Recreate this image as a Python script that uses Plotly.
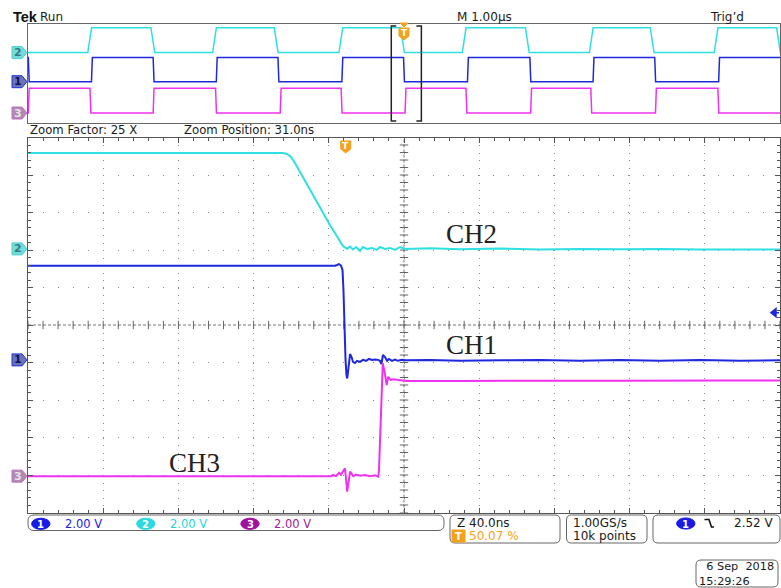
import plotly.graph_objects as go

W, H = 781, 588

# ---------------- data ----------------
VDIV = 2.00            # volts per division (all channels)
ZOOM_FACTOR = 25
ZOOM_POS_NS = 31.0     # zoom window centre, ns after trigger
ZOOM_NS_DIV = 40.0     # zoomed time base, ns/div
MAIN_US_DIV = 1.00     # main time base, us/div
TRIG_LEVEL = 2.52      # CH1 falling-edge trigger level, V

# zoomed window traces: time (ns from trigger), volts
ch2_t = [-169, -120, -80, -33.4, -31.2, -29.1, -27.0, -24.3, -19.0, -13.7,
         -8.4, -4.1, -1.5, 0.7, 2.3, 3.9, 5.5, 7.6, 9.2, 11.3,
         14.0, 16.6, 18.2, 20.9, 23.6, 26.2, 28.9, 31.5, 44.8, 60.8,
         82.1, 103.4, 124.6, 145.9, 167.2, 188.5, 209.8, 231]
ch2_v = [5.11, 5.12, 5.10, 5.11, 5.06, 4.90, 4.58, 4.10, 3.14, 2.23,
         1.27, 0.58, 0.15, 0.0, 0.12, -0.03, 0.10, -0.11, 0.10, 0.0,
         0.05, -0.05, 0.10, 0.0, 0.05, -0.05, 0.10, 0.0, 0.03, -0.02,
         0.02, -0.03, 0.0, -0.02, 0.0, -0.03, -0.02, -0.03]

ch1_t = [-169, -100, -50, -5.7, -4.6, -3.6, -2.5, -1.7, -1.2, -0.7,
         -0.1, 0.4, 0.8, 1.2, 1.7, 2.3, 3.1, 3.9, 4.9, 6.0,
         7.6, 9.2, 10.8, 12.4, 14.0, 15.6, 17.2, 18.2, 19.0, 19.8,
         20.9, 22.0, 23.0, 24.6, 26.2, 27.8, 29.9, 32.1, 44.8, 60.8,
         82.1, 103.4, 124.6, 145.9, 167.2, 188.5, 209.8, 231]
ch1_v = [5.02, 5.03, 5.01, 5.02, 5.06, 5.11, 5.03, 4.79, 3.73, 1.59,
         0.0, -0.81, -0.99, -0.65, 0.0, 0.31, 0.15, -0.11, -0.17, -0.05,
         -0.11, 0.0, -0.05, 0.05, 0.0, 0.02, 0.0, -0.05, -0.22, 0.26,
         0.15, -0.05, 0.05, -0.05, 0.02, -0.05, 0.0, -0.02, 0.0, -0.05,
         -0.02, 0.0, -0.05, 0.0, -0.05, 0.0, -0.05, -0.02]

ch3_t = [-169, -100, -30, -7.5, -6.8, -5.2, -3.6, -2.5, -0.4, 0.8,
         2.3, 3.2, 4.0, 5.5, 7.6, 10.3, 12.9, 15.6, 17.3, 17.7,
         18.2, 18.8, 19.3, 19.7, 20.6, 21.8, 22.6, 23.9, 25.3, 28.9,
         32.4, 60, 100, 150, 200, 231]
ch3_v = [0.0, 0.0, 0.0, 0.0, 0.06, 0.0, 0.17, 0.08, 0.42, -0.83,
         0.24, 0.10, 0.0, 0.08, 0.02, 0.06, 0.0, 0.05, -0.03, 0.33,
         1.93, 4.06, 5.39, 6.02, 5.6, 4.86, 5.30, 5.13, 5.16, 5.13,
         5.07, 5.08, 5.10, 5.09, 5.10, 5.10]

# overview (full record) switching edges, us from trigger
ov_ch2_edges = [-4.18, -3.34, -2.52, -1.70, -0.84, -0.02, 0.80, 1.64, 2.49, 3.30, 4.15, 4.98]
ov_ch1_edges = [-4.99, -4.15, -3.33, -2.49, -1.67, -0.82, 0.00, 0.85, 1.68, 2.52, 3.34, 4.19]
ov_ch3_edges = [-4.99, -4.17, -3.33, -2.50, -1.64, -0.83, 0.02, 0.83, 1.69, 2.49, 3.35, 4.18]
ov_start_high = {"CH1": True, "CH2": False, "CH3": False}
ov_low = {"CH1": 0.0, "CH2": 0.0, "CH3": 0.0}
ov_high = {"CH1": 5.0, "CH2": 5.1, "CH3": 5.1}
ov_rise = {"CH1": 0.012, "CH2": 0.05, "CH3": 0.012}

# channel vertical positions (divisions)
main_pos = {"CH1": 4.07, "CH2": 7.03, "CH3": 0.97}
ov_pos = {"CH1": 4.0, "CH2": 7.0, "CH3": 0.77}

colors = {"CH1": "#1E28DC", "CH2": "#2EE0E4", "CH3": "#F032F0"}

# ---------------- helpers ----------------
def X(px):
    return px / W


def Y(py):
    return 1 - py / H


def step_wave(edges, lo, hi, start_high, tr, t0=-5.0, t1=5.0):
    lvl = start_high
    xs, ys = [t0], [hi if lvl else lo]
    for e in edges:
        xs.append(e - tr / 2)
        ys.append(hi if lvl else lo)
        lvl = not lvl
        xs.append(e + tr / 2)
        ys.append(hi if lvl else lo)
    xs.append(t1)
    ys.append(hi if lvl else lo)
    return xs, ys


fig = go.Figure()

# main window range (ns)
half = 5 * ZOOM_NS_DIV
xr_main = [ZOOM_POS_NS - half, ZOOM_POS_NS + half]
GRID = "#8a8a8a"

# centre lines of the zoomed graticule
fig.add_trace(go.Scatter(x=xr_main, y=[5, 5], mode="lines",
                         line=dict(color="#777", width=1, dash="3px,2px"),
                         xaxis="x", yaxis="y", hoverinfo="skip", showlegend=False))
fig.add_trace(go.Scatter(x=[ZOOM_POS_NS, ZOOM_POS_NS], y=[0, 10], mode="lines",
                         line=dict(color="#777", width=1, dash="3px,2px"),
                         xaxis="x", yaxis="y", hoverinfo="skip", showlegend=False))
fig.add_trace(go.Scatter(x=[ZOOM_POS_NS + ZOOM_NS_DIV / 5 * k for k in range(-25, 26)],
                         y=[5] * 51, mode="markers",
                         marker=dict(symbol="line-ns", size=6, line=dict(color="#666", width=1)),
                         xaxis="x", yaxis="y", hoverinfo="skip", showlegend=False))
fig.add_trace(go.Scatter(x=[ZOOM_POS_NS] * 51, y=[0.2 * k for k in range(51)], mode="markers",
                         marker=dict(symbol="line-ew", size=6, line=dict(color="#666", width=1)),
                         xaxis="x", yaxis="y", hoverinfo="skip", showlegend=False))

# zoomed traces
for name, t, v in [("CH2", ch2_t, ch2_v), ("CH1", ch1_t, ch1_v), ("CH3", ch3_t, ch3_v)]:
    fig.add_trace(go.Scatter(x=t, y=[main_pos[name] + vv / VDIV for vv in v], mode="lines",
                             line=dict(color=colors[name], width=2),
                             xaxis="x", yaxis="y", hoverinfo="skip", showlegend=False))

# overview traces
for name, edges in [("CH2", ov_ch2_edges), ("CH1", ov_ch1_edges), ("CH3", ov_ch3_edges)]:
    xs, ys = step_wave(edges, ov_low[name], ov_high[name], ov_start_high[name], ov_rise[name])
    fig.add_trace(go.Scatter(x=xs, y=[ov_pos[name] + yy / VDIV for yy in ys], mode="lines",
                             line=dict(color=colors[name], width=1.5),
                             xaxis="x2", yaxis="y2", hoverinfo="skip", showlegend=False))

# zoom bracket in the overview
zs = (ZOOM_POS_NS - half) / 1000.0
ze = (ZOOM_POS_NS + half) / 1000.0
serif = 0.066
fig.add_trace(go.Scatter(x=[zs + serif, zs, zs, zs + serif, None, ze - serif, ze, ze, ze - serif],
                         y=[9.74, 9.74, -0.05, -0.05, None, 9.74, 9.74, -0.05, -0.05],
                         mode="lines", line=dict(color="#222", width=1.5),
                         xaxis="x2", yaxis="y2", hoverinfo="skip", showlegend=False))

# ---------------- axes ----------------
dom_x = [X(28), X(780)]
fig.update_layout(
    width=W, height=H, margin=dict(l=0, r=0, t=0, b=0),
    paper_bgcolor="white", plot_bgcolor="white", showlegend=False,
    xaxis=dict(domain=dom_x, range=xr_main, showgrid=True, gridcolor=GRID, gridwidth=1.3,
               griddash="1.3px,6.2px", tick0=ZOOM_POS_NS, dtick=ZOOM_NS_DIV,
               ticks="inside", ticklen=5, tickcolor="#555", showticklabels=False,
               minor=dict(dtick=ZOOM_NS_DIV / 5, tick0=ZOOM_POS_NS, ticks="inside", ticklen=3,
                          tickcolor="#555", showgrid=False),
               showline=True, linecolor="#555", mirror="ticks", zeroline=False, fixedrange=True),
    yaxis=dict(domain=[Y(512.5), Y(137.5)], range=[0, 10], showgrid=True, gridcolor=GRID,
               gridwidth=1.3, griddash="1.3px,13.7px", tick0=0, dtick=1,
               ticks="inside", ticklen=5, tickcolor="#555", showticklabels=False,
               minor=dict(dtick=0.2, tick0=0, ticks="inside", ticklen=3, tickcolor="#555",
                          showgrid=False),
               showline=True, linecolor="#555", mirror="ticks", zeroline=False, fixedrange=True),
    xaxis2=dict(domain=dom_x, range=[-5 * MAIN_US_DIV, 5 * MAIN_US_DIV], anchor="y2",
                showgrid=False, zeroline=False, showticklabels=False, ticks="",
                showline=True, linecolor="#666", mirror=True, fixedrange=True),
    yaxis2=dict(domain=[Y(122.5), Y(23.5)], range=[-0.206, 10.0], anchor="x2",
                showgrid=False, zeroline=False, showticklabels=False, ticks="",
                showline=True, linecolor="#666", mirror=True, fixedrange=True),
)

shapes = []
annos = []


def txt(x, y, s, size=12, color="#1a1a1a", anchor="left", family="DejaVu Sans",
        xref="paper", yref="paper", weight="normal", align="left"):
    annos.append(dict(x=x if xref != "paper" else X(x), y=y if yref != "paper" else Y(y),
                      xref=xref, yref=yref, text=s, showarrow=False, xanchor=anchor,
                      yanchor="middle", align=align,
                      font=dict(size=size, color=color, family=family, weight=weight)))


def rrect(x0, y0, x1, y1, r=5, color="#666"):
    rx, ry = r, r
    p = (f"M {X(x0 + rx)},{Y(y0)} L {X(x1 - rx)},{Y(y0)} Q {X(x1)},{Y(y0)} {X(x1)},{Y(y0 + ry)} "
         f"L {X(x1)},{Y(y1 - ry)} Q {X(x1)},{Y(y1)} {X(x1 - rx)},{Y(y1)} "
         f"L {X(x0 + rx)},{Y(y1)} Q {X(x0)},{Y(y1)} {X(x0)},{Y(y1 - ry)} "
         f"L {X(x0)},{Y(y0 + ry)} Q {X(x0)},{Y(y0)} {X(x0 + rx)},{Y(y0)} Z")
    shapes.append(dict(type="path", xref="paper", yref="paper", path=p,
                       line=dict(color=color, width=1), fillcolor="rgba(0,0,0,0)"))


def oval(cx, cy, rx, ry, fill):
    shapes.append(dict(type="circle", xref="paper", yref="paper", x0=X(cx - rx), x1=X(cx + rx),
                       y0=Y(cy + ry), y1=Y(cy - ry), fillcolor=fill, line=dict(color=fill, width=1)))


# channel ground markers
marker_style = {
    "CH1": dict(fill="#6874B4", edge="#2030E0", text="#101060", num="1"),
    "CH2": dict(fill="#74DADA", edge="#4CCFD2", text="#2F7F80", num="2"),
    "CH3": dict(fill="#B08AB0", edge="#C070C0", text="#E8E0E8", num="3"),
}
for name in ["CH1", "CH2", "CH3"]:
    st = marker_style[name]
    for yref, pos in [("y", main_pos[name]), ("y2", ov_pos[name])]:
        shapes.append(dict(type="path", xref="paper", yref=yref, xsizemode="pixel",
                           ysizemode="pixel", xanchor=X(28), yanchor=pos,
                           path="M -16,6 L -6,6 L -1,0 L -6,-6 L -16,-6 Z",
                           fillcolor=st["fill"], line=dict(color=st["edge"], width=1)))
        annos.append(dict(x=X(18), y=pos, xref="paper", yref=yref, text=st["num"],
                          showarrow=False, xanchor="center", yanchor="middle",
                          font=dict(size=11, color=st["text"], family="DejaVu Sans",
                                    weight="bold")))

# trigger position markers
ORANGE = "#F5A21B"
shapes.append(dict(type="path", xref="x", yref="paper", xsizemode="pixel", ysizemode="pixel",
                   xanchor=0, yanchor=Y(141), path="M -5,0 L 5,0 L 5,-8 L 0,-12 L -5,-8 Z",
                   fillcolor=ORANGE, line=dict(color=ORANGE, width=1)))
annos.append(dict(x=0, y=Y(146), xref="x", yref="paper", text="T", showarrow=False,
                  xanchor="center", yanchor="middle",
                  font=dict(size=9, color="white", family="DejaVu Sans", weight="bold")))
shapes.append(dict(type="path", xref="x2", yref="paper", xsizemode="pixel", ysizemode="pixel",
                   xanchor=0, yanchor=Y(23), path="M -4,0 L 4,0 L 0,-4 Z",
                   fillcolor=ORANGE, line=dict(color=ORANGE, width=1)))
shapes.append(dict(type="path", xref="x2", yref="paper", xsizemode="pixel", ysizemode="pixel",
                   xanchor=0, yanchor=Y(28), path="M -5,0 L 5,0 L 5,-8 L 0,-12 L -5,-8 Z",
                   fillcolor=ORANGE, line=dict(color=ORANGE, width=1)))
annos.append(dict(x=0, y=Y(33), xref="x2", yref="paper", text="T", showarrow=False,
                  xanchor="center", yanchor="middle",
                  font=dict(size=9, color="white", family="DejaVu Sans", weight="bold")))

# trigger level arrow on the right edge (CH1)
shapes.append(dict(type="path", xref="paper", yref="y", xsizemode="pixel", ysizemode="pixel",
                   xanchor=X(780), yanchor=main_pos["CH1"] + TRIG_LEVEL / VDIV,
                   path="M -9,0 L -4,4 L -4,-4 Z M -4,0 L -1,0",
                   fillcolor=colors["CH1"], line=dict(color=colors["CH1"], width=1.5)))

# header texts
txt(11, 17, "Tek", size=14.5, family="Liberation Sans", weight="bold", color="#111")
txt(38, 17, "Run", size=12)
txt(455, 17, f"M {MAIN_US_DIV:.2f}µs", size=12)
txt(708, 17, "Trig’d", size=12)
txt(28, 130, f"Zoom Factor: {ZOOM_FACTOR} X", size=11.7)
txt(182, 130, f"Zoom Position: {ZOOM_POS_NS:.1f}ns", size=11.7)

# channel labels
for s, x, y in [("CH2", 444, 234), ("CH1", 444, 345), ("CH3", 167, 463)]:
    txt(x, y, s, size=27, family="Liberation Serif", color="#222")

# status bar
rrect(28, 515, 444, 530.5, r=6)
rrect(450, 515, 560, 543)
rrect(566.5, 515, 647, 543)
rrect(653, 515, 780, 543)
rrect(696, 560, 778, 587)

ovals = [(40.8, "#1A1AE6", "1", "#2020E0"), (145.8, "#2ED8E0", "2", "#25D5DD"),
         (250.0, "#A0119F", "3", "#A020A0")]
for cx, fill, num, tcol in ovals:
    oval(cx, 523.8, 9.2, 5.6, fill)
    txt(cx, 524, num, size=10, color="white", anchor="center", weight="bold")
    txt(cx + 22.3, 523.5, f"{VDIV:.2f} V", size=11.5, color=tcol)

txt(455, 522.5, f"Z {ZOOM_NS_DIV:.1f}ns", size=12)
shapes.append(dict(type="rect", xref="paper", yref="paper", x0=X(452), x1=X(465),
                   y0=Y(542), y1=Y(530), fillcolor=ORANGE, line=dict(color=ORANGE, width=1)))
txt(458.5, 536, "T", size=10, color="white", anchor="center", weight="bold")
txt(467, 536, "50.07 %", size=12, color=ORANGE)
txt(571, 522.5, "1.00GS/s", size=12)
txt(571, 536, "10k points", size=12)
oval(685.8, 523.5, 9.2, 5.6, "#1A1AE6")
txt(685.8, 524, "1", size=10, color="white", anchor="center", weight="bold")
shapes.append(dict(type="path", xref="paper", yref="paper",
                   path=f"M {X(704.5)},{Y(519.5)} L {X(709)},{Y(519.5)} L {X(711.5)},{Y(527)} "
                        f"L {X(714)},{Y(527)}",
                   line=dict(color="#111", width=1.6)))
txt(776, 522.5, f"{TRIG_LEVEL:.2f} V", size=12, anchor="right")
# date / time stamp as one two-line text
annos.append(dict(x=X(697), y=Y(574), xref="paper", yref="paper",
                  text="  6 Sep  2018<br>15:29:26", showarrow=False, xanchor="left",
                  yanchor="middle", align="left",
                  font=dict(size=11.3, color="#1a1a1a", family="DejaVu Sans")))

fig.update_layout(shapes=shapes, annotations=annos)
fig.write_html("out.html", config={"displayModeBar": False},
               post_script="document.body.style.margin='0';document.body.style.overflow='hidden';")
